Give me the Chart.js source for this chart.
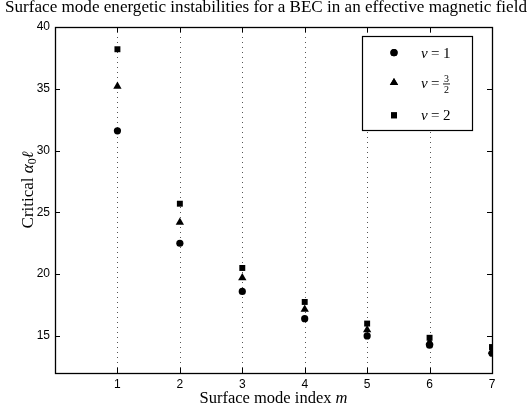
<!DOCTYPE html>
<html><head><meta charset="utf-8">
<script src="https://cdn.jsdelivr.net/npm/chart.js@4/dist/chart.umd.min.js"></script>
<style>html,body{margin:0;padding:0;background:#fff}#wrap{width:532px;height:410px}</style>
</head><body><div id="wrap"><canvas id="c" width="532" height="410"></canvas></div>
<script>
const modes = [1, 2, 3, 4, 5, 6, 7];
const nu1  = [31.6, 22.5, 18.6, 16.4, 15.0, 14.25, 13.6];
const nu32 = [35.2, 24.2, 19.7, 17.15, 15.5, 14.5, 13.75];
const nu2  = [38.2, 25.7, 20.5, 17.75, 16.0, 14.85, 14.1];
const xTicks = [1, 2, 3, 4, 5, 6, 7];
const yTicks = [15, 20, 25, 30, 35, 40];
const titleText = 'Surface mode energetic instabilities for a BEC in an effective magnetic field';

const SERIF = '"Liberation Serif", "DejaVu Serif", serif';
const DSERIF = '"DejaVu Serif", serif';
const SANS = '"Liberation Sans", Arial, sans-serif';

function pts(vals){ return modes.map((m,i)=>({x:m,y:vals[i]})); }

function drawRuns(ctx, runs, cx, by){
  let w=0; runs.forEach(r=>{ctx.font=r.font; r.w=ctx.measureText(r.t).width; w+=r.w;});
  let x=cx-w/2;
  ctx.textAlign='left'; ctx.textBaseline='alphabetic';
  runs.forEach(r=>{ctx.font=r.font; ctx.fillText(r.t,x,by+(r.dy||0)); x+=r.w;});
}

const deco = {
  id:'deco',
  beforeDatasetsDraw(chart){
    const {ctx, chartArea:a, scales:{x,y}} = chart;
    ctx.save();
    ctx.strokeStyle='#555'; ctx.lineWidth=1; ctx.setLineDash([1,4]);
    xTicks.forEach(m=>{ if(m>=7) return;
      const px=Math.round(x.getPixelForValue(m))+0.5;
      ctx.beginPath(); ctx.moveTo(px,a.top); ctx.lineTo(px,a.bottom); ctx.stroke();});
    ctx.setLineDash([]);
    ctx.strokeStyle='#000';
    xTicks.forEach(m=>{ if(m>=7) return;
      const px=Math.round(x.getPixelForValue(m))+0.5;
      ctx.beginPath(); ctx.moveTo(px,a.bottom); ctx.lineTo(px,a.bottom-5);
      ctx.moveTo(px,a.top); ctx.lineTo(px,a.top+5); ctx.stroke();});
    yTicks.forEach(v=>{ if(v>=40) return;
      const py=Math.round(y.getPixelForValue(v))+0.5;
      ctx.beginPath(); ctx.moveTo(a.left,py); ctx.lineTo(a.left+5,py);
      ctx.moveTo(a.right,py); ctx.lineTo(a.right-5,py); ctx.stroke();});
    ctx.lineWidth=1.3;
    ctx.strokeRect(Math.round(a.left)+0.5, Math.round(a.top)+0.5, Math.round(a.width), Math.round(a.height));
    ctx.restore();
  },
  afterDraw(chart){
    const {ctx, chartArea:a} = chart;
    ctx.save();
    ctx.fillStyle='#000';
    ctx.font='13px '+SERIF;
    const tw=ctx.measureText(titleText).width;
    const ts=13*522/tw;
    ctx.font=ts.toFixed(2)+'px '+SERIF;
    ctx.textAlign='center'; ctx.textBaseline='alphabetic';
    ctx.fillText(titleText, 266, 12);
    drawRuns(ctx,[{t:'Surface mode index ',font:'16.5px '+SERIF},{t:'m',font:'italic 16.5px '+SERIF}], (a.left+a.right)/2, 403);
    ctx.translate(33,190); ctx.rotate(-Math.PI/2);
    drawRuns(ctx,[{t:'Critical ',font:'17px '+SERIF},{t:'α',font:'italic 17px '+SERIF},{t:'0',font:'12px '+SERIF,dy:3},{t:'ℓ',font:'italic 16px '+DSERIF}],0,0);
    ctx.setTransform(1,0,0,1,0,0);
    const lx=362, ly=36, lw=110, lh=94;
    ctx.fillStyle='#fff'; ctx.fillRect(lx,ly,lw,lh);
    ctx.strokeStyle='#000'; ctx.lineWidth=1.2; ctx.strokeRect(lx+0.5,ly+0.5,lw,lh);
    ctx.fillStyle='#000';
    const items=[{style:'circle',r:3.6,y:52.7},{style:'triangle',r:4.8,y:82.7},{style:'rect',r:4.2,y:115.3}];
    items.forEach(it=>{ Chart.helpers.drawPoint(ctx,{pointStyle:it.style,radius:it.r,borderWidth:0},394,it.y); ctx.fill(); });
    ctx.textAlign='left'; ctx.textBaseline='alphabetic';
    const lab=(yb, tail)=>{
      ctx.font='italic 15px '+SERIF; ctx.fillText('ν',421,yb);
      ctx.font='15px '+SERIF; ctx.fillText('=',431,yb);
      if(tail) ctx.fillText(tail,443,yb);
    };
    lab(57.5,'1');
    lab(87.5,null);
    ctx.font='10px '+SERIF; ctx.textAlign='center';
    ctx.fillText('3',446.5,82); ctx.fillText('2',446.5,93);
    ctx.fillRect(443,83.5,7,0.9);
    ctx.textAlign='left';
    lab(120,'2');
    ctx.restore();
  }
};

new Chart(document.getElementById('c'), {
  type:'scatter',
  data:{datasets:[
    {label:'ν = 1', data:pts(nu1), pointStyle:'circle', pointRadius:3.6, backgroundColor:'#000', borderWidth:0},
    {label:'ν = 3/2', data:pts(nu32), pointStyle:'triangle', pointRadius:4.8, backgroundColor:'#000', borderWidth:0},
    {label:'ν = 2', data:pts(nu2), pointStyle:'rect', pointRadius:4.2, backgroundColor:'#000', borderWidth:0}
  ]},
  options:{
    responsive:false, animation:false, events:[],
    layout:{padding:{top:27,right:40,left:0,bottom:0}},
    plugins:{legend:{display:false}, title:{display:false}, tooltip:{enabled:false}},
    scales:{
      x:{type:'linear', min:0, max:7,
        afterBuildTicks:s=>{s.ticks=xTicks.map(v=>({value:v}));},
        afterFit:s=>{s.height=37;},
        grid:{display:false, drawTicks:false}, border:{display:false},
        ticks:{color:'#000', font:{family:SANS,size:12}, padding:4, maxRotation:0, autoSkip:false}},
      y:{type:'linear', min:12, max:40,
        afterBuildTicks:s=>{s.ticks=yTicks.map(v=>({value:v}));},
        afterFit:s=>{s.width=55;},
        grid:{display:false, drawTicks:false}, border:{display:false},
        ticks:{color:'#000', font:{family:SANS,size:12}, padding:5, autoSkip:false}}
    }
  },
  plugins:[deco]
});
</script></body></html>
